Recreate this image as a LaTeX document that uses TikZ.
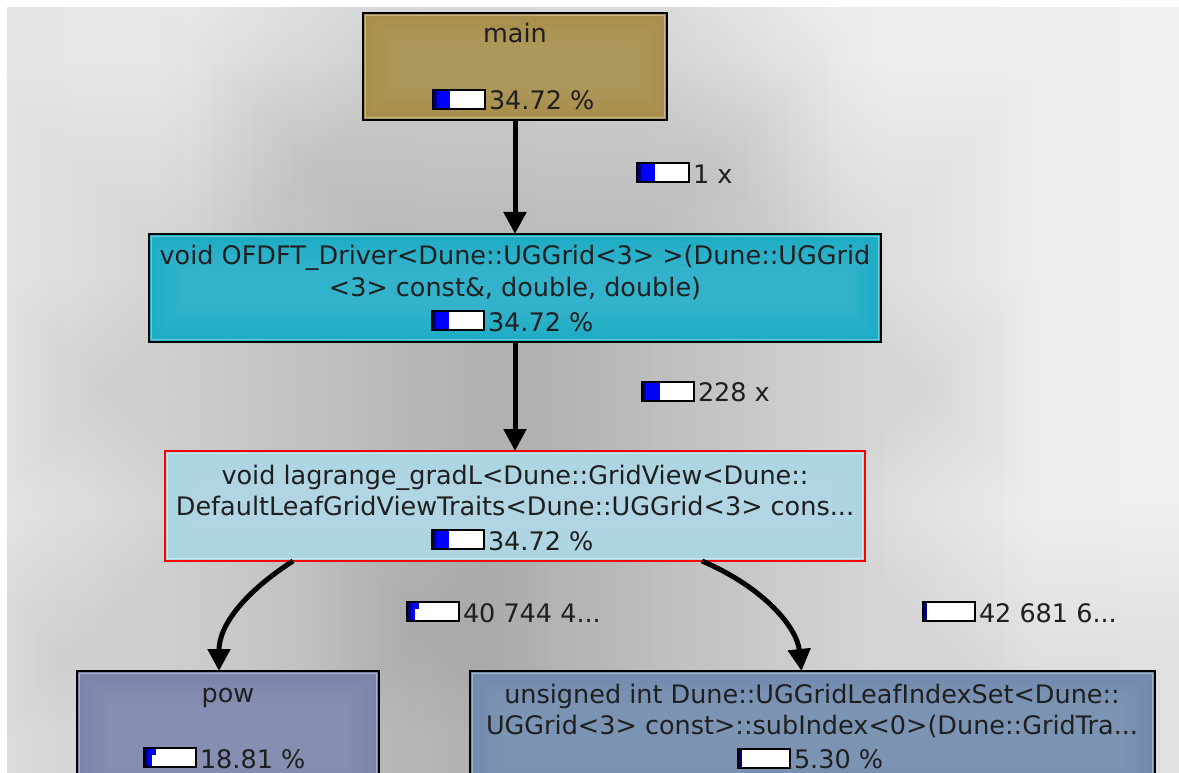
\documentclass[tikz,border=0pt]{standalone}
\usepackage{fontspec}
\setmainfont{DejaVu Sans}
\usetikzlibrary{arrows.meta}

\definecolor{canvasleft}{RGB}{230,230,230}
\definecolor{canvasright}{RGB}{240,240,240}
\definecolor{mainfill}{RGB}{168,142,76}
\definecolor{driverfill}{RGB}{31,173,198}
\definecolor{gradfill}{RGB}{172,213,226}
\definecolor{powfill}{RGB}{124,132,172}
\definecolor{indexfill}{RGB}{114,138,174}
\definecolor{barblue}{RGB}{0,0,255}
\definecolor{bardark}{RGB}{0,0,120}

% soft rectangular shade around a box (x1,y1,x2,y2): first, second, last offset, opacity
\newcommand\softshade[8]{%
  \foreach \d in {#5,#6,...,#7}{%
    \fill[black, fill opacity=#8] (#1-\d,#2-\d) rectangle (#3+\d,#4+\d);}}
\newcommand\dropshade[4]{\softshade{#1}{#2}{#3}{#4}{10}{20}{170}{0.0058}}

% call-graph box: name, x1, y1, x2, y2, fill colour, border colour
\newcommand\cgbox[7]{%
  \node[cgbox, fill=#6, draw=#7, minimum width={#4-#2}, minimum height={#5-#3}]
    (#1) at ({(#2+#4)/2},{(#3+#5)/2}) {};
  \foreach \i in {1,...,5}{%
    \fill[white, fill opacity=0.02] (#2+6*\i+2,#3+6*\i+2) rectangle (#4-6*\i-2,#5-6*\i-2);}
  \draw[#6!65!white, line width=1.2pt] (#2+2.8,#3+2.8) rectangle (#4-2.8,#5-2.8);
  \draw[#7, line width=2.2pt] (#2,#3) rectangle (#4,#5);}

% cost bars: x, y of the top-left corner
\newcommand\barframe[2]{\draw[line width=2pt] (#1,#2) rectangle ++(52,19);}
\newcommand\barfull[3]{%
  \fill[white] (#1,#2) rectangle ++(52,19);
  \fill[barblue] (#1+1,#2+1) rectangle ++(#3,17);
  \fill[bardark] (#1+1,#2+1) rectangle ++(2.5,17);
  \barframe{#1}{#2}}
\newcommand\barstep[2]{%
  \fill[white] (#1,#2) rectangle ++(52,19);
  \fill[barblue] (#1+1,#2+1) rectangle ++(6.5,17);
  \fill[barblue] (#1+1,#2+1) rectangle ++(11,6);
  \fill[bardark] (#1+1,#2+1) rectangle ++(2.5,17);
  \barframe{#1}{#2}}
\newcommand\barthin[2]{%
  \fill[white] (#1,#2) rectangle ++(52,19);
  \fill[bardark] (#1+1,#2+1) rectangle ++(2.5,17);
  \barframe{#1}{#2}}

\begin{document}
\begin{tikzpicture}[x=1pt, y=-1pt,
  every node/.style={inner sep=0pt, outer sep=0pt},
  cgbox/.style={rectangle, line width=2.2pt},
  txt/.style={font=\fontsize{25.5}{31}\selectfont, text=black!88, anchor=base},
  callarrow/.style={line width=5pt, -{Triangle[length=22pt, width=22pt]}}]

\useasboundingbox (0,0) rectangle (1179,773);
\fill[white] (0,0) rectangle (1179,773);

\begin{scope}
\clip (7,8) rectangle (1179,773);
\shade[left color=canvasleft, right color=canvasright] (7,8) rectangle (1179,773);

% shade along the call chain
\softshade{480}{330}{550}{773}{0}{10}{320}{0.0045}
% shades under the boxes
\dropshade{363}{13}{667}{120}
\dropshade{149}{234}{881}{342}
\dropshade{165}{451}{865}{561}
\dropshade{77}{671}{379}{800}
\dropshade{470}{671}{1155}{800}

% boxes
\cgbox{main}{363}{13}{667}{120}{mainfill}{black}
\cgbox{driver}{149}{234}{881}{342}{driverfill}{black}
\cgbox{grad}{165}{451}{865}{561}{gradfill}{red}
\cgbox{pow}{77}{671}{379}{800}{powfill}{black}
\cgbox{index}{470}{671}{1155}{800}{indexfill}{black}

% calls
\draw[callarrow] (main.south) -- (driver.north);
\draw[callarrow] (driver.south) -- (grad.north);
\draw[callarrow] ([xshift=128pt]grad.south west)
  .. controls (245,592) and (219,625) .. ([xshift=-9pt]pow.north);
\draw[callarrow] ([xshift=537pt]grad.south west)
  .. controls (765,588) and (797,628) .. ([xshift=-11pt]index.north);

% box texts
\node[txt] (main-name) at (515,43) {main};
\barfull{433}{90}{16}
\node[txt, anchor=base west] (main-cost) at (489,110) {34.72 \%};

\node[txt] (driver-l1) at (515,264) {void OFDFT\_Driver<Dune::UGGrid<3> >(Dune::UGGrid};
\node[txt] (driver-l2) at (515,296) {<3> const\&, double, double)};
\barfull{432}{311}{16}
\node[txt, anchor=base west] (driver-cost) at (488,331) {34.72 \%};

\node[txt] (grad-l1) at (515,484) {void lagrange\_gradL<Dune::GridView<Dune::};
\node[txt] (grad-l2) at (515,515) {DefaultLeafGridViewTraits<Dune::UGGrid<3> cons...};
\barfull{432}{530}{16}
\node[txt, anchor=base west] (grad-cost) at (488,550) {34.72 \%};

\node[txt] (pow-name) at (228,702) {pow};
\barstep{144}{748}
\node[txt, anchor=base west] (pow-cost) at (200,768) {18.81 \%};

\node[txt] (index-l1) at (812,703) {unsigned int Dune::UGGridLeafIndexSet<Dune::};
\node[txt] (index-l2) at (812,734) {UGGrid<3> const>::subIndex<0>(Dune::GridTra...};
\barthin{738}{749}
\node[txt, anchor=base west] (index-cost) at (794,768) {5.30 \%};

% call counts
\barfull{637}{163}{17}
\node[txt, anchor=base west] (calls-1) at (693,184) {1 x};
\barfull{642}{382}{17}
\node[txt, anchor=base west] (calls-2) at (698,401) {228 x};
\barstep{407}{602}
\node[txt, anchor=base west] (calls-3) at (463,622) {40 744 4...};
\barthin{923}{602}
\node[txt, anchor=base west] (calls-4) at (979,622) {42 681 6...};
\end{scope}
\end{tikzpicture}
\end{document}
